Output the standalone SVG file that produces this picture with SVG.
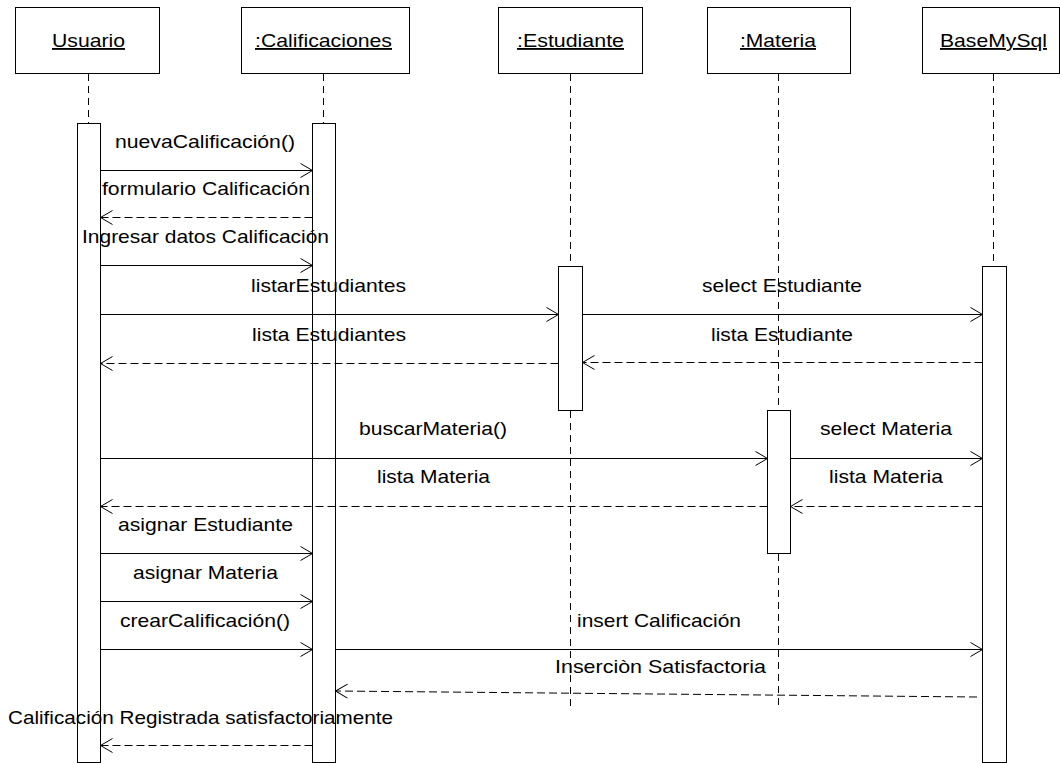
<svg xmlns="http://www.w3.org/2000/svg" width="1060" height="763" viewBox="0 0 1060 763">
<style>
text{font-family:"Liberation Sans",Arial,sans-serif;font-size:18.5px;fill:#000;text-anchor:middle}
.hdr{text-decoration:underline}
.box{fill:#fff;stroke:#000;stroke-width:1}
.act{fill:#fff;stroke:#000;stroke-width:1}
.life{stroke:#000;stroke-width:1;stroke-dasharray:7,5;fill:none}
.msg{stroke:#000;stroke-width:1;fill:none;marker-end:url(#ah)}
.ret{stroke:#000;stroke-width:1;fill:none;stroke-dasharray:8,4;marker-end:url(#ah)}
</style>
<defs>
<marker id="ah" markerUnits="userSpaceOnUse" markerWidth="16" markerHeight="18" refX="0" refY="0" viewBox="-14 -9 16 18" orient="auto" overflow="visible">
<path d="M-12,-7 L0,0 L-12,7" fill="none" stroke="#000" stroke-width="1"/>
</marker>
</defs>
<rect width="1060" height="763" fill="#fff"/>

<g id="usuario">
<rect class="box" x="15.5" y="7.5" width="144" height="66"/>
<text class="hdr" x="88.5" y="47" textLength="73" lengthAdjust="spacingAndGlyphs">Usuario</text>
<line class="life" x1="88.5" y1="74" x2="88.5" y2="123"/>
<rect class="act" x="77.5" y="123.5" width="23" height="639"/>
</g>

<g id="calificaciones">
<rect class="box" x="241.5" y="7.5" width="168" height="66"/>
<text class="hdr" x="323.5" y="47" textLength="137" lengthAdjust="spacingAndGlyphs">:Calificaciones</text>
<line class="life" x1="323.5" y1="74" x2="323.5" y2="123"/>
<rect class="act" x="312.5" y="123.5" width="23" height="639"/>
</g>

<g id="estudiante">
<rect class="box" x="498.5" y="7.5" width="144" height="66"/>
<text class="hdr" x="570.5" y="47" textLength="107" lengthAdjust="spacingAndGlyphs">:Estudiante</text>
<line class="life" x1="570.5" y1="74" x2="570.5" y2="266"/>
<line class="life" x1="570.5" y1="411" x2="570.5" y2="710"/>
<rect class="act" x="558.5" y="266.5" width="24" height="144"/>
</g>

<g id="materia">
<rect class="box" x="707.5" y="7.5" width="143" height="66"/>
<text class="hdr" x="778" y="47" textLength="76" lengthAdjust="spacingAndGlyphs">:Materia</text>
<line class="life" x1="778.5" y1="74" x2="778.5" y2="410"/>
<line class="life" x1="778.5" y1="554" x2="778.5" y2="710"/>
<rect class="act" x="767.5" y="410.5" width="23" height="143"/>
</g>

<g id="basemysql">
<rect class="box" x="922.5" y="7.5" width="137" height="66"/>
<text class="hdr" x="993.5" y="47" textLength="107" lengthAdjust="spacingAndGlyphs">BaseMySql</text>
<line class="life" x1="993.5" y1="74" x2="993.5" y2="266"/>
<rect class="act" x="982.5" y="266.5" width="24" height="496"/>
</g>

<g id="connectors">
<line class="msg" x1="100.5" y1="170.5" x2="312.5" y2="170.5"/>
<line class="ret" x1="312.5" y1="217.5" x2="100.5" y2="217.5"/>
<line class="msg" x1="100.5" y1="265.5" x2="312.5" y2="265.5"/>
<line class="msg" x1="100.5" y1="314.5" x2="558.5" y2="314.5"/>
<line class="msg" x1="582.5" y1="314.5" x2="982.5" y2="314.5"/>
<line class="ret" x1="982.5" y1="362.5" x2="582.5" y2="362.5"/>
<line class="ret" x1="558.5" y1="363.5" x2="100.5" y2="363.5"/>
<line class="msg" x1="100.5" y1="458.5" x2="767.5" y2="458.5"/>
<line class="msg" x1="790.5" y1="458.5" x2="982.5" y2="458.5"/>
<line class="ret" x1="982.5" y1="506.5" x2="790.5" y2="506.5"/>
<line class="ret" x1="767.5" y1="506.5" x2="100.5" y2="506.5"/>
<line class="msg" x1="100.5" y1="553.5" x2="312.5" y2="553.5"/>
<line class="msg" x1="100.5" y1="601.5" x2="312.5" y2="601.5"/>
<line class="msg" x1="100.5" y1="649.5" x2="312.5" y2="649.5"/>
<line class="msg" x1="335.5" y1="649.5" x2="982.5" y2="649.5"/>
<line class="ret" x1="977" y1="697" x2="335.5" y2="691"/>
<line class="ret" x1="312.5" y1="745.5" x2="100.5" y2="745.5"/>
</g>

<g id="labels">
<text x="205" y="148" textLength="180" lengthAdjust="spacingAndGlyphs">nuevaCalificación()</text>
<text x="206" y="195" textLength="208" lengthAdjust="spacingAndGlyphs">formulario Calificación</text>
<text x="205.5" y="243" textLength="247" lengthAdjust="spacingAndGlyphs">Ingresar datos Calificación</text>
<text x="328.5" y="292" textLength="155" lengthAdjust="spacingAndGlyphs">listarEstudiantes</text>
<text x="782" y="292" textLength="160" lengthAdjust="spacingAndGlyphs">select Estudiante</text>
<text x="329" y="341" textLength="154" lengthAdjust="spacingAndGlyphs">lista Estudiantes</text>
<text x="782" y="341" textLength="142" lengthAdjust="spacingAndGlyphs">lista Estudiante</text>
<text x="433" y="435" textLength="148" lengthAdjust="spacingAndGlyphs">buscarMateria()</text>
<text x="886" y="435" textLength="132" lengthAdjust="spacingAndGlyphs">select Materia</text>
<text x="433.5" y="483" textLength="113" lengthAdjust="spacingAndGlyphs">lista Materia</text>
<text x="886" y="483" textLength="114" lengthAdjust="spacingAndGlyphs">lista Materia</text>
<text x="205.5" y="531" textLength="175" lengthAdjust="spacingAndGlyphs">asignar Estudiante</text>
<text x="205.5" y="579" textLength="145" lengthAdjust="spacingAndGlyphs">asignar Materia</text>
<text x="205" y="627" textLength="170" lengthAdjust="spacingAndGlyphs">crearCalificación()</text>
<text x="659" y="627" textLength="164" lengthAdjust="spacingAndGlyphs">insert Calificación</text>
<text x="660.5" y="673" textLength="211" lengthAdjust="spacingAndGlyphs">Inserciòn Satisfactoria</text>
<text x="200.5" y="724" textLength="385" lengthAdjust="spacingAndGlyphs">Calificación Registrada satisfactoriamente</text>
</g>
</svg>
